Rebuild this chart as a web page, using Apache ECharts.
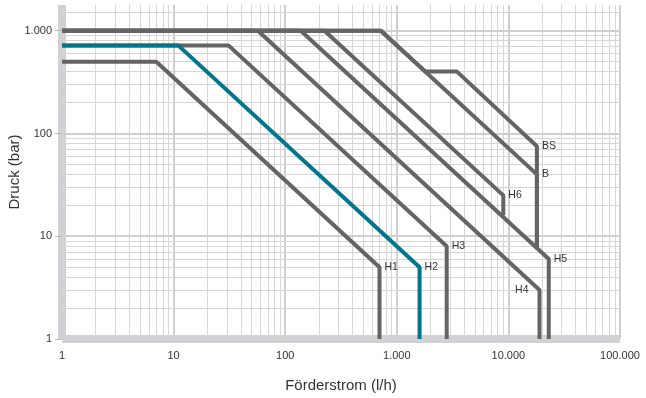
<!DOCTYPE html>
<html>
<head>
<meta charset="utf-8">
<script src="https://cdn.jsdelivr.net/npm/echarts@6/dist/echarts.min.js"></script>
<style>html,body{margin:0;padding:0;background:#fff}#c{width:646px;height:398px}</style>
</head>
<body>
<div id="c"></div>
<script>
// ---- data ----
const xTickLabels = [1, 10, 100, 1000, 10000, 100000];
const yTickLabels = [1, 10, 100, 1000];
const seriesNames = ['H1', 'H3', 'H4', 'H5', 'H6', 'B', 'BS', 'H2'];
const H1 = [[1, 500], [7, 500], [700, 5], [700, 1]];
const H2 = [[1, 720], [11, 720], [1600, 5], [1600, 1]];
const H3 = [[1, 720], [31, 720], [2800, 8], [2800, 1]];
const H4 = [[1, 1000], [57, 1000], [19000, 3], [19000, 1]];
const H5 = [[1, 1000], [138, 1000], [23000, 6], [23000, 1]];
const H6 = [[1, 1000], [225, 1000], [9000, 25], [9000, 16]];
const B  = [[1, 1000], [720, 1000], [18000, 40], [18000, 7.7]];
const BS = [[1, 1000], [720, 1000], [1800, 400], [3460, 400], [18000, 75], [18000, 7.7]];
// label point index and side for each curve
const labelAt = {H1: [2, 'right'], H2: [2, 'right'], H3: [2, 'right'], H4: [2, 'left'],
                 H5: [2, 'right'], H6: [2, 'right'], B: [2, 'right'], BS: [4, 'right']};
const seriesData = {H1, H2, H3, H4, H5, H6, B, BS};
// grid line values
const gridMinor = [2,3,4,5,6,7,8,9];
const xDecades = [1, 10, 100, 1000, 10000, 100000];
const yDecades = [1, 10, 100, 1000];
const yExtraGrid = [1500];

const fmt = v => String(Math.round(v)).replace(/\B(?=(\d{3})+(?!\d))/g, '.');
const FONT = 'Liberation Sans, Arial, sans-serif';

const gridData = [];
xDecades.forEach((d, i) => {
  if (i > 0) gridData.push({xAxis: d, lineStyle: {width: 2, color: '#cfcfcf'}});
  if (d < 100000) gridMinor.forEach(m => gridData.push({xAxis: m * d}));
});
yDecades.forEach((d, i) => {
  if (i > 0) gridData.push({yAxis: d, lineStyle: {width: 2, color: '#cfcfcf'}});
  if (d < 1000) gridMinor.forEach(m => gridData.push({yAxis: m * d}));
});
yExtraGrid.forEach(v => gridData.push({yAxis: v}));

const series = [{
  type: 'line', data: [], z: 1, silent: true,
  markLine: {
    z: 1, silent: true, symbol: ['none', 'none'], animation: false,
    label: {show: false},
    lineStyle: {color: '#d6d6d6', width: 1, type: 'solid', cap: 'butt'},
    data: gridData
  }
}];
seriesNames.forEach(name => {
  const pts = seriesData[name];
  const [li, side] = labelAt[name];
  const data = pts.map((p, i) => i === li ? {
    value: p,
    label: {show: true, position: side, distance: side === 'left' ? 11 : 5,
            formatter: name, color: '#333', fontSize: 10.5, fontFamily: FONT}
  } : p);
  series.push({
    name, type: 'line', data, showSymbol: true, symbol: 'circle', symbolSize: 0,
    z: name === 'H2' ? 4 : 3,
    itemStyle: {color: name === 'H2' ? '#00758b' : '#646464'},
    lineStyle: {color: name === 'H2' ? '#00758b' : '#646464', width: 4, type: 'solid'},
    label: {show: false},
    animation: false
  });
});

const chart = echarts.init(document.getElementById('c'), null, {renderer: 'canvas'});
chart.setOption({
  animation: false,
  backgroundColor: '#fff',
  grid: {left: 62, right: 26, top: 5, bottom: 59, containLabel: false, outerBoundsMode: 'none'},
  xAxis: {
    type: 'log', logBase: 10, min: 1, max: 100000,
    name: 'Förderstrom (l/h)', nameLocation: 'middle', nameGap: 39, nameMoveOverlap: false,
    nameTextStyle: {fontSize: 15, color: '#333', fontFamily: FONT},
    axisLine: {show: true, lineStyle: {color: '#d1d1d3', width: 8, cap: 'butt'}},
    axisTick: {show: false},
    splitLine: {show: false},
    axisLabel: {customValues: xTickLabels, formatter: fmt, margin: 11, fontSize: 11,
                color: '#333', fontFamily: FONT}
  },
  yAxis: {
    type: 'log', logBase: 10, min: 1, max: 1780,
    name: 'Druck (bar)', nameLocation: 'middle', nameGap: 40, nameMoveOverlap: false,
    nameTextStyle: {fontSize: 15, color: '#333', fontFamily: FONT},
    axisLine: {show: true, lineStyle: {color: '#d1d1d3', width: 8, cap: 'butt'}},
    axisTick: {show: true, customValues: yTickLabels, length: 7, lineStyle: {color: '#bbbbbb', width: 1}},
    splitLine: {show: false},
    axisLabel: {customValues: yTickLabels, formatter: fmt, margin: 10, fontSize: 11,
                color: '#333', fontFamily: FONT}
  },
  series
});
</script>
</body>
</html>
